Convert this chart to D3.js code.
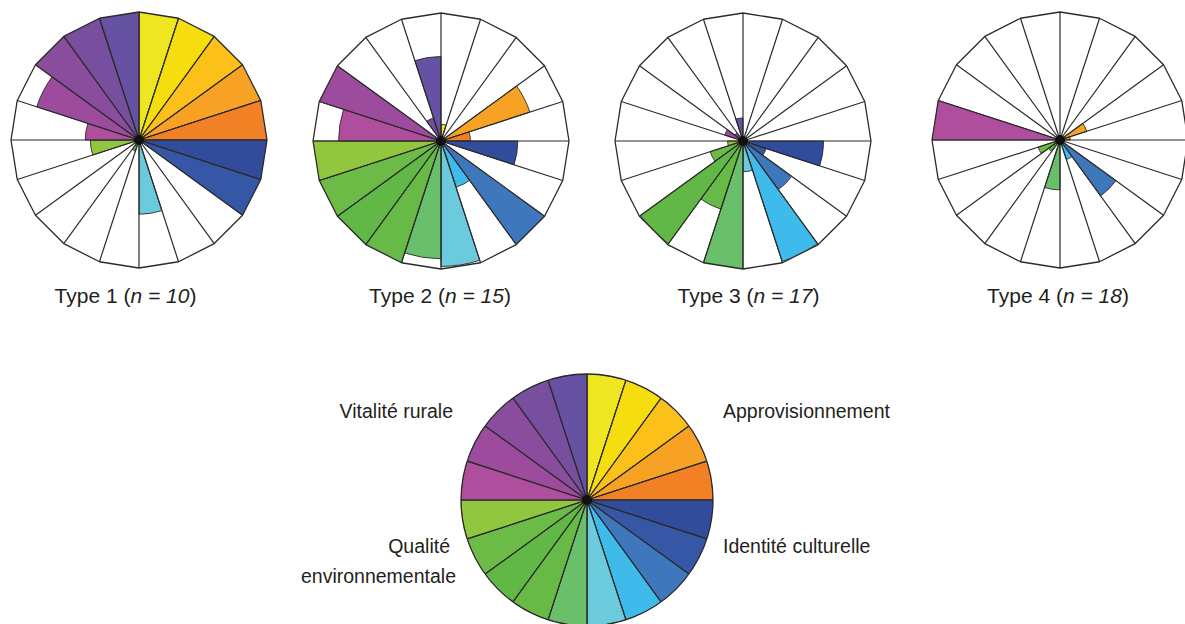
<!DOCTYPE html>
<html>
<head>
<meta charset="utf-8">
<script src="https://cdn.jsdelivr.net/npm/d3@7"></script>
<style>
  html, body { margin: 0; padding: 0; background: #ffffff; }
  svg { display: block; }
  text { font-family: "Liberation Sans", Arial, Helvetica, sans-serif; fill: #231F20; }
</style>
</head>
<body>
<svg id="chart" width="1185" height="624"></svg>
<script>
// ---- Data ----
const categories = ["Approvisionnement", "Identité culturelle", "Qualité environnementale", "Vitalité rurale"];
// 20 sectors, clockwise from 12 o'clock (5 per category)
const sectorColors = [
  "#EFE622", "#F6DD0F", "#FBC01A", "#F7A125", "#F28024",
  "#324C9C", "#3656A6", "#3F77BD", "#3EBBEA", "#6BCADB",
  "#6ABF6A", "#68BA47", "#62B846", "#6CBB46", "#90C73F",
  "#B04E9E", "#9C4B9D", "#8A4D9E", "#784F9F", "#6652A2"
];
const type1 = [1, 1, 1, 1, 1, 1, 1, 0, 0, 0.58, 0, 0.09, 0, 0, 0.38, 0.42, 0.84, 1, 1, 1];
const type2 = [0.13, 0, 0, 0.73, 0.23, 0.6, 0, 1, 0.38, 0.98, 0.92, 1, 1, 1, 1, 0.8, 1, 0, 0.19, 0.66];
const type3 = [0, 0, 0, 0, 0, 0.63, 0.19, 0.47, 0.99, 0.24, 1, 0.56, 0.99, 0.27, 0.12, 0, 0.15, 0.08, 0, 0.18];
const type4 = [0, 0, 0, 0.22, 0.08, 0, 0, 0.54, 0.16, 0, 0.39, 0, 0.11, 0.18, 0, 1, 0, 0, 0, 0];
const typeNames = ["Type 1", "Type 2", "Type 3", "Type 4"];
const typeN = [10, 15, 17, 18];
const legendValues = d3.range(20).map(() => 1);

// ---- Layout ----
const svg = d3.select("#chart");
const R = 128;
const panels = [
  { values: type1, cx: 139, cy: 140, lx: 125.5 },
  { values: type2, cx: 441, cy: 141, lx: 440 },
  { values: type3, cx: 743, cy: 141, lx: 748.5 },
  { values: type4, cx: 1060, cy: 140, lx: 1058 }
];
const nSec = sectorColors.length;
const angle = d3.scaleLinear().domain([0, nSec]).range([0, 2 * Math.PI]);
const stroke = "#2b2b2b";

function drawFlower(g, values, radius, polygonal, id) {
  const r = d3.scaleLinear().domain([0, 1]).range([0, radius]);
  const verts = d3.range(nSec).map(i => {
    const a = angle(i);
    return [Math.sin(a) * radius, -Math.cos(a) * radius];
  });
  const polyLine = d3.line()(verts) + "Z";
  if (polygonal) {
    g.append("clipPath").attr("id", id).append("path").attr("d", polyLine);
    g.append("path").attr("d", polyLine).attr("fill", "#fff");
  } else {
    g.append("clipPath").attr("id", id).append("circle").attr("r", radius);
    g.append("circle").attr("r", radius).attr("fill", "#fff");
  }
  const arc = d3.arc().innerRadius(0);
  g.append("g").attr("clip-path", `url(#${id})`)
    .selectAll("path.bar")
    .data(values.map((v, i) => ({ v, i })).filter(d => d.v > 0))
    .join("path")
    .attr("class", "bar")
    .attr("d", d => arc({ outerRadius: r(d.v), startAngle: angle(d.i), endAngle: angle(d.i + 1) }))
    .attr("fill", d => sectorColors[d.i])
    .attr("stroke", stroke)
    .attr("stroke-width", 0.9)
    .attr("stroke-linejoin", "round");
  g.append("g").selectAll("line")
    .data(verts)
    .join("line")
    .attr("x1", 0).attr("y1", 0)
    .attr("x2", d => d[0]).attr("y2", d => d[1])
    .attr("stroke", stroke)
    .attr("stroke-width", 1.2);
  if (polygonal) {
    g.append("path").attr("d", polyLine).attr("fill", "none")
      .attr("stroke", stroke).attr("stroke-width", 1.3).attr("stroke-linejoin", "round");
  } else {
    g.append("circle").attr("r", radius).attr("fill", "none")
      .attr("stroke", stroke).attr("stroke-width", 1.3);
  }
  g.append("circle").attr("r", 5).attr("fill", "#111");
}

panels.forEach((p, k) => {
  const g = svg.append("g").attr("transform", `translate(${p.cx},${p.cy})`);
  drawFlower(g, p.values, R, true, "clip" + k);
  const t = svg.append("text")
    .attr("x", p.lx).attr("y", 303)
    .attr("text-anchor", "middle")
    .attr("font-size", 21);
  t.append("tspan").text(typeNames[k] + " (");
  t.append("tspan").attr("font-style", "italic").text("n = " + typeN[k]);
  t.append("tspan").text(")");
});

// Legend flower
const lg = svg.append("g").attr("transform", "translate(587,500)");
drawFlower(lg, legendValues, 126, false, "clipLegend");

const legendLabels = [
  { lines: [categories[3]], x: 453, y: 418, anchor: "end" },
  { lines: [categories[0]], x: 723, y: 418, anchor: "start" },
  { lines: ["Qualité", "environnementale"], x: [450, 456], y: 553, anchor: "end" },
  { lines: [categories[1]], x: 723, y: 553, anchor: "start" }
];
legendLabels.forEach(l => {
  l.lines.forEach((s, j) => {
    svg.append("text")
      .attr("x", Array.isArray(l.x) ? l.x[j] : l.x)
      .attr("y", l.y + j * 30)
      .attr("text-anchor", l.anchor)
      .attr("font-size", 19.5)
      .text(s);
  });
});
</script>
</body>
</html>
